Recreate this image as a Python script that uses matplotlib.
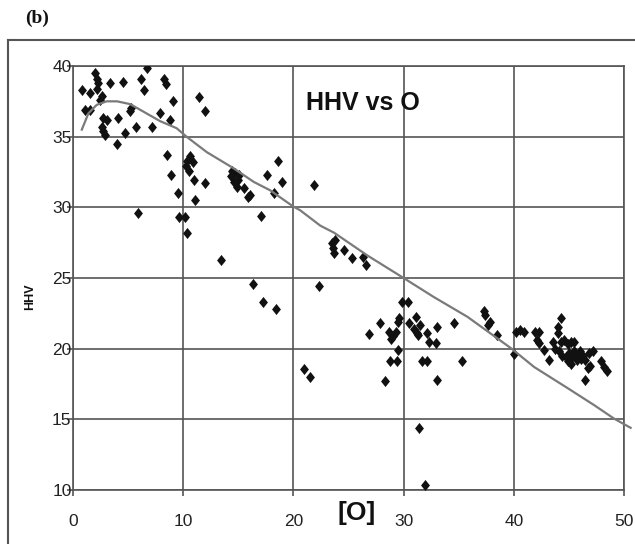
import matplotlib
matplotlib.use("Agg")
import matplotlib.pyplot as plt
from matplotlib.lines import Line2D
from matplotlib.path import Path

# ---- data ----
o_pct = [0.8, 1.55, 1.1, 1.55, 2.0, 2.15, 2.3, 2.2, 2.6, 2.45, 2.75, 3.05, 2.6, 2.75, 2.9,
         3.4, 4.5, 4.1, 4.0, 4.7, 5.3, 5.2, 5.7, 5.9, 6.15, 6.45, 6.75, 7.15, 7.85, 8.3,
         8.4, 9.05, 8.8, 8.5, 8.9, 9.5, 9.6, 10.2, 10.35, 10.3, 10.6, 10.9, 10.5, 10.25,
         11.0, 11.1, 11.4, 12.0, 12.0, 13.45,
         14.4, 14.7, 14.3, 14.6, 15.0, 14.9, 15.5, 15.1, 15.9, 16.1, 17.1, 17.6, 18.2,
         18.6, 19.0, 21.9, 16.3, 17.2, 18.45, 21.0, 21.55, 22.3,
         23.5, 23.8, 23.6, 23.7, 24.6, 25.3, 26.3, 26.6,
         26.9, 27.9, 28.7, 29.0, 28.9, 29.3, 29.45, 29.6, 29.9, 30.4, 30.5, 31.1, 30.9,
         31.2, 31.5, 31.3, 32.15, 32.3, 32.9, 33.06, 34.6, 29.5, 28.8, 29.4, 31.7, 32.15,
         35.3, 28.3, 33.0, 31.4, 31.9,
         37.3, 37.4, 37.8, 37.7, 38.45, 40.0, 40.2, 40.6, 40.9, 41.9, 42.3, 42.1, 42.3,
         42.75, 43.2, 44.3, 44.0, 44.0, 43.6, 43.7, 44.3, 44.6, 44.9, 45.2, 45.5, 44.1,
         44.4, 44.7, 45.0, 45.3, 45.5, 45.8, 46.0, 46.3, 44.9, 45.2, 45.7, 46.1, 46.5,
         46.8, 46.9, 46.7, 47.2, 46.5, 47.9, 48.2, 48.5]
hhv = [38.3, 38.1, 36.9, 36.9, 39.5, 39.1, 38.8, 38.4, 37.9, 37.6, 36.3, 36.2, 35.7, 35.4, 35.1,
       38.8, 38.9, 36.3, 34.5, 35.25, 37.0, 36.8, 35.7, 29.6, 39.1, 38.3, 39.85, 35.7, 36.7, 39.1,
       38.7, 37.5, 36.2, 33.7, 32.3, 31.0, 29.3, 29.3, 28.2, 33.3, 33.6, 33.2, 32.6, 32.9,
       31.9, 30.5, 37.8, 36.8, 31.7, 26.3,
       32.6, 32.4, 32.2, 31.8, 31.9, 31.45, 31.35, 32.3, 30.75, 30.9, 29.4, 32.3, 31.0,
       33.3, 31.8, 31.6, 24.6, 23.3, 22.8, 18.55, 18.0, 24.4,
       27.5, 27.7, 27.1, 26.8, 27.0, 26.4, 26.5, 25.9,
       21.05, 21.85, 21.2, 20.9, 20.7, 21.2, 21.9, 22.2, 23.3, 23.3, 21.8, 22.25, 21.4,
       21.1, 21.7, 21.0, 21.1, 20.5, 20.4, 21.55, 21.8, 19.9, 19.15, 19.1, 19.15, 19.1,
       19.15, 17.7, 17.8, 14.4, 10.35,
       22.7, 22.4, 21.9, 21.7, 21.0, 19.6, 21.2, 21.3, 21.2, 21.2, 21.2, 20.6, 20.4,
       19.9, 19.2, 22.15, 21.55, 21.1, 20.5, 20.0, 20.5, 20.6, 20.3, 20.5, 20.5, 19.8,
       19.5, 19.4, 19.7, 19.4, 19.8, 19.5, 19.8, 19.5, 19.1, 18.9, 19.2, 19.3, 19.2,
       19.7, 18.8, 18.6, 19.8, 17.8, 19.1, 18.7, 18.4]

trend_x = [0.8, 1.4, 2.15, 3.05, 4.0, 5.2, 6.1, 7.9, 9.4, 10.3, 12.15, 14.6, 16.4, 17.9,
           20.0, 20.6, 22.45, 23.7, 26.7, 30.0, 32.75, 35.8, 39.8, 41.85, 44.9, 47.3, 49.1, 50.6]
trend_y = [35.5, 36.65, 37.25, 37.5, 37.5, 37.3, 36.9, 36.1, 35.6, 35.0, 33.9, 32.75, 31.8, 31.2,
           30.05, 29.8, 28.7, 28.2, 26.6, 25.0, 23.65, 22.25, 20.0, 18.7, 17.2, 16.0, 15.05, 14.4]

x_ticks = [0, 10, 20, 30, 40, 50]
y_ticks = [10, 15, 20, 25, 30, 35, 40]

# ---- figure ----
W, H = 635, 544
fig = plt.figure(figsize=(W / 100, H / 100), dpi=100)
ax = fig.add_axes([73 / W, 1 - 490 / H, (624 - 73) / W, (490 - 66) / H])

grid_c = "#555555"
ax.set_xlim(0, 50)
ax.set_ylim(10, 40)
ax.set_xticks(x_ticks)
ax.set_yticks(y_ticks)
ax.grid(True, color=grid_c, linewidth=1.2)
ax.set_axisbelow(True)
for s in ax.spines.values():
    s.set_color(grid_c)
    s.set_linewidth(1.2)
ax.tick_params(direction="out", length=4, width=1.2, color=grid_c,
               labelsize=12.5, labelcolor="#222222")
ax.tick_params(axis="x", pad=13)
ax.tick_params(axis="y", pad=-3)
for lab in ax.get_xticklabels() + ax.get_yticklabels():
    lab.set_fontfamily("Liberation Sans")

diamond = Path([(0, 1), (0.8, 0), (0, -1), (-0.8, 0), (0, 1)],
               [Path.MOVETO, Path.LINETO, Path.LINETO, Path.LINETO, Path.CLOSEPOLY])
ax.plot(o_pct, hhv, linestyle="none", marker=diamond, markersize=8,
        color="#111111", markeredgewidth=0, zorder=3)
ax.plot(trend_x, trend_y, color="#7a7a7a", linewidth=1.6, zorder=4, clip_on=False)

ax.text(21.1, 37.4, "HHV vs O", fontsize=18, fontweight="bold",
        family="Liberation Sans", va="center", ha="left", color="#111111")

fig.text(357 / W, 1 - 513 / H, "[O]", fontsize=19, fontweight="bold",
         family="Liberation Sans", ha="center", va="center", color="#111111")
fig.text(30 / W, 1 - 297 / H, "HHV", fontsize=9, fontweight="bold",
         family="Liberation Sans", ha="center", va="center", rotation=90, color="#111111")
fig.text(37 / W, 1 - 18 / H, "(b)", fontsize=14, fontweight="bold",
         family="Liberation Serif", ha="center", va="center", color="#111111")

# outer frame
fig.add_artist(Line2D([8 / W, 1], [1 - 40 / H, 1 - 40 / H], transform=fig.transFigure,
                      color=grid_c, linewidth=1.5))
fig.add_artist(Line2D([8 / W, 8 / W], [0, 1 - 40 / H], transform=fig.transFigure,
                      color=grid_c, linewidth=1.5))

fig.savefig("out.png", dpi=100)
